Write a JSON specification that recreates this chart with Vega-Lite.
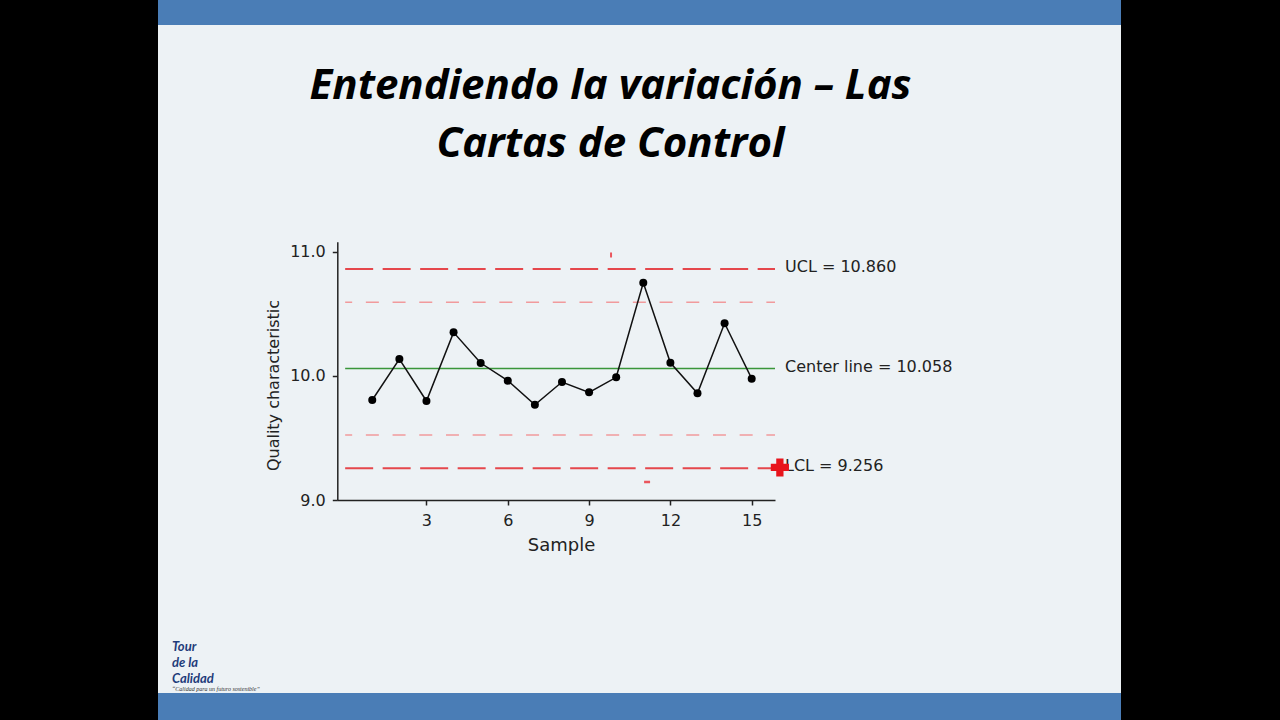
{
  "$schema": "https://vega.github.io/schema/vega-lite/v6.json",
  "background": "#000000",
  "padding": {"left": 158, "right": 159, "top": 0, "bottom": 0},
  "config": {
    "view": {"stroke": null},
    "concat": {"spacing": 0},
    "font": "DejaVu Sans"
  },
  "datasets": {
    "samples": [
      {"sample": 1, "value": 9.805},
      {"sample": 2, "value": 10.135},
      {"sample": 3, "value": 9.797},
      {"sample": 4, "value": 10.350},
      {"sample": 5, "value": 10.103},
      {"sample": 6, "value": 9.961},
      {"sample": 7, "value": 9.767},
      {"sample": 8, "value": 9.950},
      {"sample": 9, "value": 9.867},
      {"sample": 10, "value": 9.988},
      {"sample": 11, "value": 10.750},
      {"sample": 12, "value": 10.105},
      {"sample": 13, "value": 9.859},
      {"sample": 14, "value": 10.423},
      {"sample": 15, "value": 9.977}
    ],
    "limits": [
      {"line": "UCL", "value": 10.860, "label": "UCL = 10.860"},
      {"line": "Center line", "value": 10.058, "label": "Center line = 10.058"},
      {"line": "LCL", "value": 9.256, "label": "LCL = 9.256"}
    ],
    "warnings": [
      {"line": "Upper 2 sigma", "value": 10.593},
      {"line": "Lower 2 sigma", "value": 9.523}
    ]
  },
  "bounds": "flush",
  "spacing": 0,
  "vconcat": [
    {
      "width": 963,
      "height": 25,
      "view": {"fill": "#4a7db6", "stroke": null},
      "data": {"values": []},
      "mark": {"type": "point", "opacity": 0},
      "encoding": {}
    },
    {
      "width": 963,
      "height": 668,
      "view": {"fill": "#edf2f5", "stroke": null},
      "title": {
        "text": ["Entendiendo la variación – Las", "Cartas de Control"],
        "font": "Open Sans",
        "fontSize": 42,
        "fontStyle": "italic",
        "fontWeight": "bold",
        "color": "#000000",
        "anchor": "middle",
        "frame": "group",
        "lineHeight": 58,
        "baseline": "top",
        "offset": 0,
        "dx": -29,
        "dy": 141
      },
      "layer": [
        {
          "data": {"name": "limits"},
          "transform": [{"filter": "datum.line !== 'Center line'"}],
          "mark": {"type": "rule", "color": "#e5474c", "strokeWidth": 2, "strokeDash": [28, 9.5]},
          "encoding": {
            "x": {"datum": 0, "type": "quantitative"},
            "x2": {"datum": 15.86},
            "y": {"field": "value", "type": "quantitative"}
          }
        },
        {
          "data": {"name": "warnings"},
          "mark": {"type": "rule", "color": "#f19a9c", "strokeWidth": 1.5, "strokeDash": [13, 13.7], "strokeDashOffset": 6},
          "encoding": {
            "x": {"datum": 0, "type": "quantitative"},
            "x2": {"datum": 15.86},
            "y": {"field": "value", "type": "quantitative"}
          }
        },
        {
          "data": {"name": "limits"},
          "transform": [{"filter": "datum.line === 'Center line'"}],
          "mark": {"type": "rule", "color": "#3a963a", "strokeWidth": 1.5},
          "encoding": {
            "x": {"datum": 0, "type": "quantitative"},
            "x2": {"datum": 15.86},
            "y": {"field": "value", "type": "quantitative"}
          }
        },
        {
          "data": {"name": "samples"},
          "mark": {
            "type": "line",
            "color": "#111111",
            "strokeWidth": 1.5,
            "point": {"filled": true, "fill": "#000000", "size": 64}
          },
          "encoding": {
            "x": {
              "field": "sample",
              "type": "quantitative",
              "scale": {"domain": [-0.29, 15.86], "range": [179.3, 617], "nice": false, "zero": false},
              "axis": {
                "title": "Sample",
                "values": [3, 6, 9, 12, 15],
                "format": "d",
                "offset": -193,
                "grid": false,
                "domainColor": "#222222",
                "domainWidth": 1.5,
                "tickColor": "#222222",
                "tickWidth": 1.5,
                "tickSize": 5,
                "labelFont": "DejaVu Sans",
                "labelFontSize": 16,
                "labelColor": "#222222",
                "labelPadding": 7,
                "labelFlush": false,
                "titleFont": "DejaVu Sans",
                "titleFontSize": 18,
                "titleFontWeight": "normal",
                "titleColor": "#222222",
                "titlePadding": 8,
                "titleX": 403
              }
            },
            "y": {
              "field": "value",
              "type": "quantitative",
              "scale": {"domain": [9.0, 11.08], "range": [475, 216.7], "nice": false, "zero": false},
              "axis": {
                "title": "Quality characteristic",
                "values": [9, 10, 11],
                "format": ".1f",
                "offset": -179.3,
                "grid": false,
                "domainColor": "#222222",
                "domainWidth": 1.5,
                "tickColor": "#222222",
                "tickWidth": 1.5,
                "tickSize": 5,
                "labelFont": "DejaVu Sans",
                "labelFontSize": 16,
                "labelColor": "#222222",
                "labelPadding": 7,
                "labelFlush": false,
                "titleFont": "DejaVu Sans",
                "titleFontSize": 16,
                "titleFontWeight": "normal",
                "titleColor": "#222222",
                "titlePadding": 8,
                "titleY": 360
              }
            }
          }
        },
        {
          "data": {"name": "limits"},
          "mark": {"type": "text", "align": "left", "baseline": "middle", "dx": 10, "dy": -2, "fontSize": 16, "font": "DejaVu Sans", "color": "#222222"},
          "encoding": {
            "x": {"datum": 15.86, "type": "quantitative"},
            "y": {"field": "value", "type": "quantitative"},
            "text": {"field": "label"}
          }
        },
        {
          "data": {"values": [{"sample": 16.04, "value": 9.262}]},
          "mark": {"type": "point", "shape": "cross", "filled": true, "color": "#e8141c", "opacity": 1, "size": 330},
          "encoding": {
            "x": {"field": "sample", "type": "quantitative"},
            "y": {"field": "value", "type": "quantitative"}
          }
        },
        {
          "data": {"values": [{"sample": 9.81, "value": 10.973}]},
          "mark": {"type": "tick", "orient": "vertical", "color": "#e8141c", "size": 5, "thickness": 2},
          "encoding": {
            "x": {"field": "sample", "type": "quantitative"},
            "y": {"field": "value", "type": "quantitative"}
          }
        },
        {
          "data": {"values": [{"sample": 11.14, "value": 9.145}]},
          "mark": {"type": "tick", "orient": "horizontal", "color": "#e8141c", "size": 6, "thickness": 2.5},
          "encoding": {
            "x": {"field": "sample", "type": "quantitative"},
            "y": {"field": "value", "type": "quantitative"}
          }
        }
      ]
    },
    {
      "width": 963,
      "height": 27,
      "view": {"fill": "#4a7db6", "stroke": null},
      "title": {
        "text": ["Tour", "de la", "Calidad"],
        "subtitle": "“Calidad para un futuro sostenible”",
        "font": "Lato",
        "fontSize": 13,
        "fontStyle": "italic",
        "fontWeight": "bold",
        "color": "#1f3c7a",
        "lineHeight": 16,
        "subtitleFont": "Liberation Serif",
        "subtitleFontSize": 6,
        "subtitleFontStyle": "italic",
        "subtitleColor": "#333333",
        "subtitlePadding": 0,
        "anchor": "start",
        "frame": "group",
        "orient": "top",
        "offset": 1,
        "dx": 14
      },
      "data": {"values": []},
      "mark": {"type": "point", "opacity": 0},
      "encoding": {}
    }
  ]
}
